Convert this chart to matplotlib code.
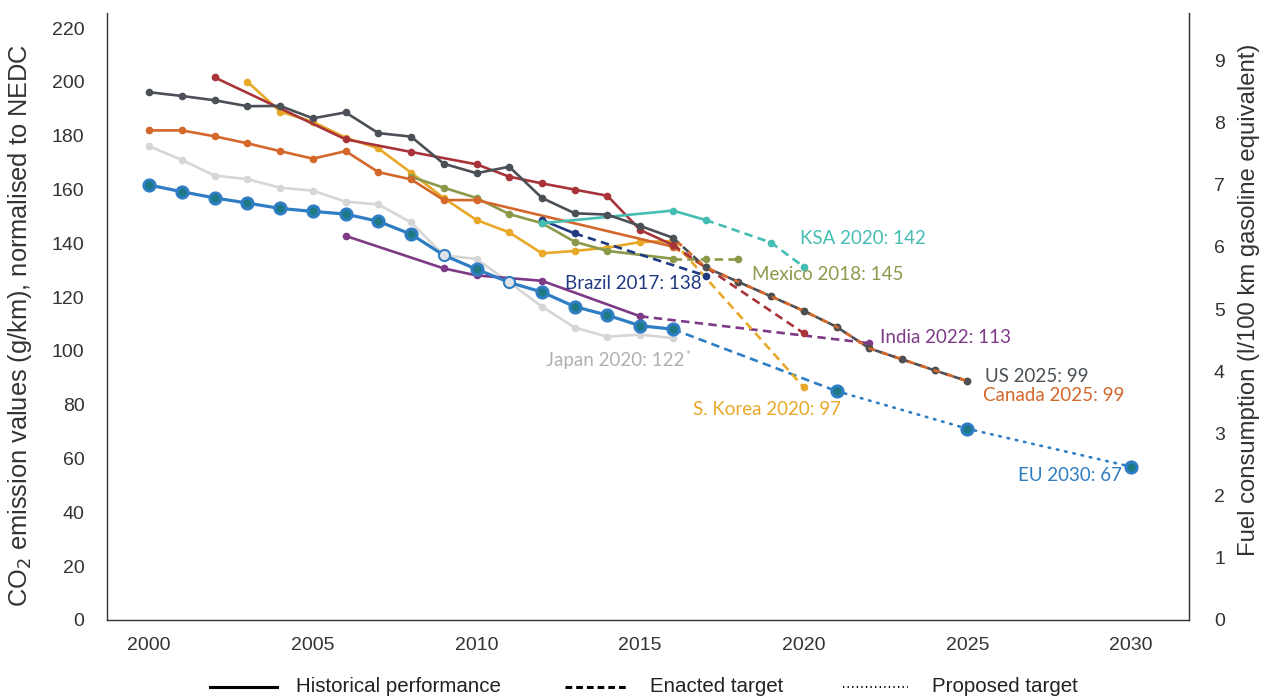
import matplotlib
matplotlib.use("Agg")
import matplotlib.pyplot as plt
from matplotlib.lines import Line2D

# ---------------- data ----------------
us_hist_years = list(range(2000, 2017))
us_hist = [196.2, 194.8, 193.2, 191.0, 191.1, 186.5, 188.7, 181.0, 179.7, 169.6,
           166.1, 168.5, 156.9, 151.2, 150.7, 146.5, 142.1]
us_target_years = list(range(2017, 2026))
us_target = [131.1, 125.7, 120.3, 114.9, 109.0, 101.0, 96.9, 92.8, 88.8]

canada_hist_years = list(range(2000, 2011)) + [2016]
canada_hist = [182.0, 182.0, 179.8, 177.2, 174.3, 171.5, 174.3, 166.5, 163.8, 156.1, 156.1, 138.8]
canada_target_years = list(range(2017, 2026))
canada_target = [131.1, 125.7, 120.3, 114.9, 109.0, 101.0, 96.9, 92.8, 88.8]

china_hist_years = [2002, 2006, 2008, 2010, 2011, 2012, 2013, 2014, 2015, 2016]
china_hist = [201.7, 178.7, 174.0, 169.4, 164.8, 162.3, 160.0, 157.7, 145.0, 139.4]
china_target_years = [2020]
china_target = [106.6]

korea_hist_years = list(range(2003, 2017))
korea_hist = [200.1, 189.0, 185.2, 179.3, 175.3, 166.3, 156.8, 148.7, 144.1, 136.3,
              137.2, 138.4, 140.5, 140.9]
korea_target_years = [2020]
korea_target = [86.5]

japan_hist_years = list(range(2000, 2017))
japan_hist = [176.1, 171.0, 165.2, 163.9, 160.7, 159.6, 155.5, 154.5, 147.8, 135.6,
              134.2, 125.5, 116.5, 108.7, 105.3, 106.1, 104.8]

eu_hist_years = list(range(2000, 2017))
eu_hist = [161.7, 159.2, 156.9, 155.0, 153.0, 151.9, 150.9, 148.2, 143.4, 135.6,
           130.4, 125.5, 121.9, 116.5, 113.3, 109.4, 108.1]
eu_target_years = [2021]
eu_target = [85.1]
eu_proposed_years = [2025, 2030]
eu_proposed = [71.1, 57.0]

mexico_hist_years = [2008, 2009, 2010, 2011, 2012, 2013, 2014, 2016]
mexico_hist = [164.8, 160.7, 156.9, 150.9, 147.5, 140.6, 137.2, 134.3]
mexico_target_years = [2017, 2018]
mexico_target = [134.3, 134.3]

brazil_hist_years = [2012, 2013]
brazil_hist = [148.7, 143.7]
brazil_target_years = [2017]
brazil_target = [128.0]

ksa_hist_years = [2012, 2016, 2017]
ksa_hist = [147.5, 152.2, 148.7]
ksa_target_years = [2019, 2020]
ksa_target = [140.3, 131.3]

india_hist_years = [2006, 2009, 2010, 2012, 2015]
india_hist = [142.8, 130.7, 128.1, 126.1, 112.9]
india_target_years = [2022]
india_target = [102.9]

labels = {
    "ksa": "KSA 2020: 142",
    "mexico": "Mexico 2018: 145",
    "brazil": "Brazil 2017: 138",
    "india": "India 2022: 113",
    "japan": "Japan 2020: 122",
    "korea": "S. Korea 2020: 97",
    "us": "US 2025: 99",
    "canada": "Canada 2025: 99",
    "eu": "EU 2030: 67",
}
legend_labels = ["Historical performance", "Enacted target", "Proposed target"]

# ---------------- style ----------------
C_US = "#4a5055"
C_CA = "#d4672a"
C_CN = "#a8343a"
C_KR = "#e8a828"
C_JP = "#d6d6d6"
C_JP_TXT = "#b0b0b0"
C_EU = "#2f7dc2"
C_EU_IN = "#1d7a84"
C_MX = "#8a9a4a"
C_BR = "#1f3a82"
C_KSA = "#45bdb3"
C_IN = "#7e3a87"

LW = 1.9
MS = 5.5
DASH = (0, (3.2, 2.0))

W, H = 1268, 700
fig = plt.figure(figsize=(W / 100, H / 100), dpi=100)
ax = fig.add_axes([106.7 / W, 1 - 620 / H, (1189 - 106.7) / W, (620 - 13) / H])

TICKFONT = "Liberation Sans"
LABFONT = "Lato"


def series(hx, hy, tx, ty, color, z, ms=MS, ls=DASH, target_markers=True):
    ax.plot(hx, hy, color=color, lw=LW, marker="o", ms=ms, mfc=color, mec=color,
            mew=0, zorder=z, solid_capstyle="round")
    if tx:
        ax.plot([hx[-1]] + list(tx), [hy[-1]] + list(ty), color=color, lw=LW,
                ls=ls, zorder=z - 0.1)
        if target_markers:
            ax.plot(tx, ty, ls="none", marker="o", ms=ms, mfc=color, mec=color,
                    mew=0, zorder=z)


# Japan (no target line)
ax.plot(japan_hist_years, japan_hist, color=C_JP, lw=LW, marker="o", ms=MS,
        mew=0, zorder=2)

# India
series(india_hist_years, india_hist, india_target_years, india_target, C_IN, 3)

# EU
ax.plot(eu_hist_years, eu_hist, color=C_EU, lw=LW + 0.4, zorder=4)
ax.plot([eu_hist_years[-1]] + eu_target_years, [eu_hist[-1]] + eu_target,
        color=C_EU, lw=LW, ls=DASH, zorder=4)
ax.plot(eu_target_years + eu_proposed_years, eu_target + eu_proposed,
        color=C_EU, lw=LW, ls=(0, (0.6, 2.6)), dash_capstyle="round", zorder=4)
eu_all_x = eu_hist_years + eu_target_years + eu_proposed_years
eu_all_y = eu_hist + eu_target + eu_proposed
hollow = {2009, 2011}
ax.plot([x for x in eu_all_x if x not in hollow],
        [y for x, y in zip(eu_all_x, eu_all_y) if x not in hollow],
        ls="none", marker="o", ms=8, mfc=C_EU_IN, mec=C_EU, mew=2.2, zorder=4.5)
ax.plot([x for x in eu_all_x if x in hollow],
        [y for x, y in zip(eu_all_x, eu_all_y) if x in hollow],
        ls="none", marker="o", ms=8, mfc="#dfe3e8", mec=C_EU, mew=1.5, zorder=4.5)

series(korea_hist_years, korea_hist, korea_target_years, korea_target, C_KR, 5)
series(mexico_hist_years, mexico_hist, mexico_target_years, mexico_target, C_MX, 6)
series(canada_hist_years, canada_hist, canada_target_years, canada_target, C_CA, 6.5)
series(china_hist_years, china_hist, china_target_years, china_target, C_CN, 7)
series(brazil_hist_years, brazil_hist, brazil_target_years, brazil_target, C_BR, 7.5)
series(ksa_hist_years, ksa_hist, ksa_target_years, ksa_target, C_KSA, 8)
series(us_hist_years, us_hist, us_target_years, us_target, C_US, 9)
# Canada dashes showing in the gaps of the US dashes
ax.plot([canada_hist_years[-1]] + canada_target_years,
        [us_hist[-1]] + canada_target, color=C_CA, lw=LW,
        ls=(2.6, (2.0, 3.2)), zorder=9.05)


def lab(x, y, key, color, ha="left", fs=13.5):
    return ax.text(x, y, labels[key], color=color, ha=ha, va="center", fontsize=fs,
                   family=LABFONT, zorder=20)


lab(2019.88, 142.0, "ksa", C_KSA)
lab(2018.41, 128.3, "mexico", C_MX)
lab(2016.89, 125.2, "brazil", C_BR, ha="right")
lab(2022.33, 105.2, "india", C_IN)
lab(2016.35, 96.4, "japan", C_JP_TXT, ha="right")
ax.text(2016.37, 98.3, "*", color=C_JP_TXT, ha="left", va="center", fontsize=9,
        family=LABFONT, zorder=20)
lab(2021.13, 78.1, "korea", C_KR, ha="right")
lab(2025.55, 90.4, "us", C_US)
lab(2025.48, 83.4, "canada", C_CA)
lab(2029.72, 53.8, "eu", C_EU, ha="right")

# axes
YTOP = 225.65
FACTOR = 23.12
ax.set_xlim(1998.70, 2031.77)
ax.set_ylim(0, YTOP)
ax.set_xticks(range(2000, 2031, 5))
ax.set_yticks(range(0, 221, 20))
ax.spines["top"].set_visible(False)
for s in ["left", "bottom", "right"]:
    ax.spines[s].set_color("#333333")
    ax.spines[s].set_linewidth(1.0)
ax.tick_params(length=0, labelsize=14, labelcolor="#333333", pad=12)
for t in ax.get_xticklabels() + ax.get_yticklabels():
    t.set_family(TICKFONT)
ax.tick_params(axis="y", pad=16)
ax.set_ylabel("CO$_2$ emission values (g/km), normalised to NEDC",
              fontsize=18.3, family=TICKFONT, color="#333333")
ax.yaxis.set_label_coords(-0.067, 0.486)

ax2 = ax.twinx()
ax2.set_ylim(0, YTOP / FACTOR)
ax2.set_yticks(range(0, 10))
for s in ["top", "left", "bottom"]:
    ax2.spines[s].set_visible(False)
ax2.spines["right"].set_color("#333333")
ax2.tick_params(length=0, labelsize=14, labelcolor="#333333", pad=18)
for t in ax2.get_yticklabels():
    t.set_family(TICKFONT)
ax2.set_ylabel("Fuel consumption (l/100 km gasoline equivalent)", fontsize=17.2,
               family=TICKFONT, color="#333333")
ax2.yaxis.set_label_coords(1.0453, 0.527)

# legend drawn at fixed figure positions
LEG_Y = 1 - 687 / H
leg_styles = [dict(ls="-", lw=2.2), dict(ls=(0, (2.2, 1.3)), lw=2.2),
              dict(ls=(0, (0.6, 1.6)), lw=1.5)]
leg_lines = [(210, 277, 296), (565, 628, 650), (843, 908, 932)]
for (x0, x1, xt), st, text in zip(leg_lines, leg_styles, legend_labels):
    fig.add_artist(Line2D([x0 / W, x1 / W], [LEG_Y, LEG_Y], color="black",
                          transform=fig.transFigure, **st))
    fig.text(xt / W, LEG_Y, text, ha="left", va="center", fontsize=14.8,
             family=TICKFONT, color="#222222")

fig.savefig("out.png", dpi=100)
